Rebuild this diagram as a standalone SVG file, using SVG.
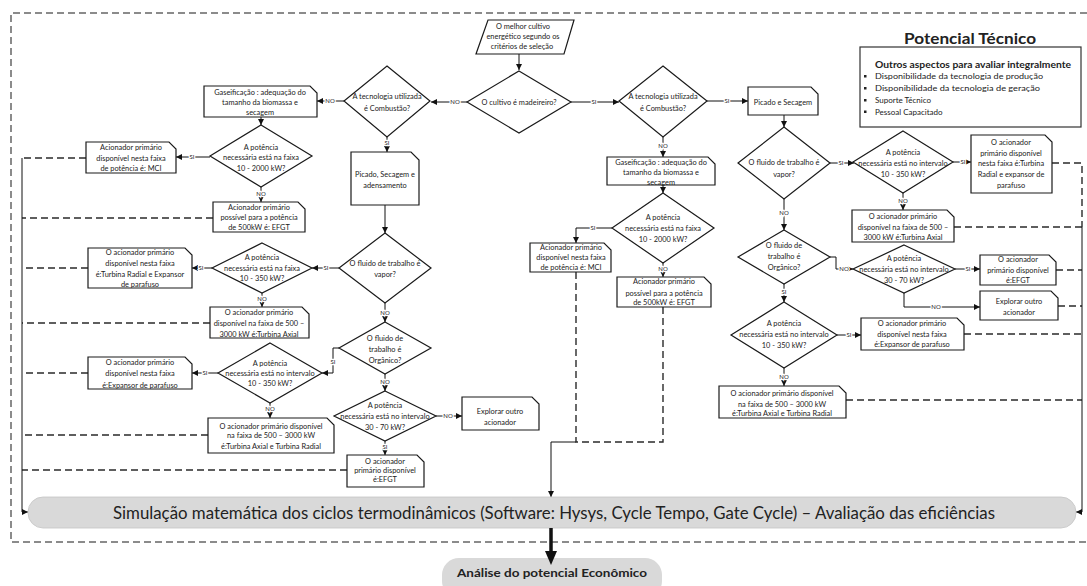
<svg xmlns="http://www.w3.org/2000/svg" width="1087" height="586" viewBox="0 0 1087 586">
  <defs>
    <marker id="ah" markerUnits="userSpaceOnUse" markerWidth="6" markerHeight="6" refX="6" refY="3" orient="auto">
      <path d="M0,0 L6,3 L0,6 z" fill="#111"/>
    </marker>
    <style>
      .n{fill:#fff;stroke:#1a1a1a;stroke-width:1.2}
      .t{font-family:Lato,"Liberation Sans",sans-serif;font-size:7.4px;fill:#222;text-anchor:middle}
      .c{fill:none;stroke:#111;stroke-width:1}
      .ca{fill:none;stroke:#111;stroke-width:1;marker-end:url(#ah)}
      .d{fill:none;stroke:#2a2a2a;stroke-width:1.4;stroke-dasharray:7 4}
      .fr{fill:none;stroke:#666;stroke-width:1.5;stroke-dasharray:7 4}
      .lb{font-family:Lato,"Liberation Sans",sans-serif;font-size:6px;fill:#222;text-anchor:middle;stroke:#fff;stroke-width:2.5;paint-order:stroke}
      .hd{font-family:Lato,"Liberation Sans",sans-serif;fill:#222}
    </style>
  </defs>

  <!-- outer dashed frame -->
  <path class="fr" d="M1087,13 H11 V542 H1087"/>

  <!-- connectors -->
  <g id="connectors">
    <path class="ca" d="M519,54 V70"/>
    <path class="ca" d="M467,102 H431"/>
    <path class="ca" d="M571,102 H619"/>
    <path class="ca" d="M344,101 H317"/>
    <path class="ca" d="M261,117 V125"/>
    <path class="ca" d="M210,157 H176"/>
    <path class="ca" d="M261,187 V202"/>
    <path class="ca" d="M387,137 V152"/>
    <path class="ca" d="M385,205 V233"/>
    <path class="ca" d="M339,268 H312"/>
    <path class="ca" d="M212,268 H192"/>
    <path class="ca" d="M262,293 V307"/>
    <path class="ca" d="M385,303 V322"/>
    <path class="ca" d="M339,348 H333 V373 H322"/>
    <path class="ca" d="M218,373 H192"/>
    <path class="ca" d="M270,403 V418"/>
    <path class="ca" d="M385,374 V391"/>
    <path class="ca" d="M436,416 H462"/>
    <path class="ca" d="M385,441 V455"/>

    <path class="ca" d="M663,137 V157"/>
    <path class="ca" d="M663,185 V193"/>
    <path class="ca" d="M612,228 H576 V243"/>
    <path class="ca" d="M663,263 V277"/>
    <path class="ca" d="M707,101 H748"/>
    <path class="ca" d="M784,115 V127"/>
    <path class="ca" d="M830,163 H854"/>
    <path class="ca" d="M953,162 H971"/>
    <path class="ca" d="M903,193 V210"/>
    <path class="ca" d="M784,199 V230"/>
    <path class="ca" d="M830,257 H836 V269 H853"/>
    <path class="ca" d="M955,269 H980"/>
    <path class="ca" d="M904,293 V307 H980"/>
    <path class="ca" d="M784,284 V302"/>
    <path class="ca" d="M837,335 H861"/>
    <path class="ca" d="M784,368 V386"/>

    <!-- dashed links to the collectors -->
    <path class="d" d="M86,158 H22"/>
    <path class="d" d="M213,218 H22"/>
    <path class="d" d="M88,268 H22"/>
    <path class="d" d="M210,323 H22"/>
    <path class="d" d="M88,373 H22"/>
    <path class="d" d="M208,435 H22"/>
    <path class="d" d="M347,470 H22"/>
    <path class="d" d="M576,272 V442 H663 V307"/>
    <path class="d" d="M1052,163 H1082 V227"/>
    <path class="d" d="M954,227 H1082"/>
    <path class="d" d="M1056,270 H1082"/>
    <path class="d" d="M1058,306 H1082"/>
    <path class="d" d="M964,334 H1082"/>
    <path class="d" d="M846,400 H1082"/>

    <!-- solid collectors -->
    <path class="ca" d="M22,158 V512 H28"/>
    <path class="ca" d="M1082,227 V512 H1076"/>
    <path class="ca" d="M576,442 H551 V497"/>

    <!-- branch labels -->
    <text class="lb" x="455" y="104">NO</text>
    <text class="lb" x="594" y="104">SI</text>
    <text class="lb" x="330" y="103">NO</text>
    <text class="lb" x="192" y="159">SI</text>
    <text class="lb" x="261" y="196">NO</text>
    <text class="lb" x="387" y="145">SI</text>
    <text class="lb" x="326" y="270">SI</text>
    <text class="lb" x="201" y="270">SI</text>
    <text class="lb" x="262" y="301">NO</text>
    <text class="lb" x="385" y="315">NO</text>
    <text class="lb" x="333" y="364">SI</text>
    <text class="lb" x="205" y="375">SI</text>
    <text class="lb" x="270" y="411">NO</text>
    <text class="lb" x="385" y="384">NO</text>
    <text class="lb" x="448" y="418">NO</text>
    <text class="lb" x="385" y="449">SI</text>
    <text class="lb" x="663" y="148">NO</text>
    <text class="lb" x="593" y="230">SI</text>
    <text class="lb" x="663" y="271">NO</text>
    <text class="lb" x="727" y="103">SI</text>
    <text class="lb" x="841" y="165">SI</text>
    <text class="lb" x="963" y="164">SI</text>
    <text class="lb" x="903" y="203">NO</text>
    <text class="lb" x="784" y="215">NO</text>
    <text class="lb" x="844" y="271">NO</text>
    <text class="lb" x="968" y="271">SI</text>
    <text class="lb" x="936" y="309">NO</text>
    <text class="lb" x="784" y="294">SI</text>
    <text class="lb" x="849" y="337">SI</text>
    <text class="lb" x="784" y="379">NO</text>
  </g>

  <!-- start -->
  <g id="inicio">
    <polygon class="n" points="488,20 574,20 564,54 476,54"/>
    <text class="t" x="523" y="29">O melhor cultivo</text>
    <text class="t" x="523" y="39">energético segundo os</text>
    <text class="t" x="522" y="49">critérios de seleção</text>
  </g>

  <g id="madeireiro">
    <polygon class="n" points="519,71 571,102 519,133 467,102"/>
    <text class="t" x="519" y="105">O cultivo é madeireiro?</text>
  </g>

  <!-- left branch -->
  <g id="tec-esq">
    <polygon class="n" points="387,66 430,101 387,137 344,101"/>
    <text class="t" x="387" y="99">A tecnologia utilizada</text>
    <text class="t" x="387" y="111">é Combustão?</text>
  </g>
  <g id="gas-esq">
    <path class="n" d="M204,86 H310 L317,93 V117 H204 Z"/>
    <text class="t" x="260" y="94.5">Gaseificação : adequação do</text>
    <text class="t" x="260" y="104.5">tamanho da biomassa e</text>
    <text class="t" x="260" y="115">secagem</text>
  </g>
  <g id="pot2000-esq">
    <polygon class="n" points="261,125 312,156 261,187 210,156"/>
    <text class="t" x="261" y="149.5">A potência</text>
    <text class="t" x="261" y="160">necessária está na faixa</text>
    <text class="t" x="261" y="170.5">10 - 2000 kW?</text>
  </g>
  <g id="mci-esq">
    <path class="n" d="M86,142 H169 L176,149 V173 H86 Z"/>
    <text class="t" x="131" y="150">Acionador primário</text>
    <text class="t" x="131" y="160.5">disponível nesta faixa</text>
    <text class="t" x="131" y="171">de potência é: MCI</text>
  </g>
  <g id="efgt500-esq">
    <path class="n" d="M213,202 H298 L305,209 V232 H213 Z"/>
    <text class="t" x="259" y="209.5">Acionador primário</text>
    <text class="t" x="259" y="219.5">possível para a potência</text>
    <text class="t" x="259" y="229.5">de 500kW é: EFGT</text>
  </g>
  <g id="picado-esq">
    <path class="n" d="M351,152 H411 L419,160 V205 H351 Z"/>
    <text class="t" x="385" y="176.5">Picado, Secagem e</text>
    <text class="t" x="385" y="187.5">adensamento</text>
  </g>
  <g id="vapor-esq">
    <polygon class="n" points="385,233 431,268 385,303 339,268"/>
    <text class="t" x="385" y="265.5">O fluido de trabalho é</text>
    <text class="t" x="385" y="276.5">vapor?</text>
  </g>
  <g id="pot350-esq">
    <polygon class="n" points="262,243 312,268 262,293 212,268"/>
    <text class="t" x="262" y="259.5">A potência</text>
    <text class="t" x="262" y="270.5">necessária está na faixa</text>
    <text class="t" x="262" y="280.5">10 - 350 kW?</text>
  </g>
  <g id="radial-esq">
    <path class="n" d="M88,248 H185 L192,255 V288 H88 Z"/>
    <text class="t" x="140" y="254.5">O acionador primário</text>
    <text class="t" x="140" y="265.5">disponível nesta faixa</text>
    <text class="t" x="140" y="276.5">é:Turbina Radial e Expansor</text>
    <text class="t" x="140" y="287">de parafuso</text>
  </g>
  <g id="axial-esq">
    <path class="n" d="M210,307 H302 L309,314 V338 H210 Z"/>
    <text class="t" x="259" y="315">O acionador primário</text>
    <text class="t" x="259" y="326">disponível na faixa de 500 –</text>
    <text class="t" x="259" y="337">3000 kW é:Turbina Axial</text>
  </g>
  <g id="organico-esq">
    <polygon class="n" points="385,322 431,348 385,374 339,348"/>
    <text class="t" x="385" y="340.5">O fluido de</text>
    <text class="t" x="385" y="351.5">trabalho é</text>
    <text class="t" x="385" y="362.5">Orgânico?</text>
  </g>
  <g id="int350-esq">
    <polygon class="n" points="270,343 322,373 270,403 218,373"/>
    <text class="t" x="270" y="365.5">A potência</text>
    <text class="t" x="270" y="375.5">necessária está no intervalo</text>
    <text class="t" x="270" y="385.5">10 - 350 kW?</text>
  </g>
  <g id="parafuso-esq">
    <path class="n" d="M88,357 H185 L192,364 V389 H88 Z"/>
    <text class="t" x="140" y="364.5">O acionador primário</text>
    <text class="t" x="140" y="376">disponível nesta faixa</text>
    <text class="t" x="140" y="387.5">é:Expansor de parafuso</text>
  </g>
  <g id="axrad-esq">
    <path class="n" d="M208,418 H327 L334,425 V453 H208 Z"/>
    <text class="t" x="271" y="428.5">O acionador primário disponível</text>
    <text class="t" x="271" y="438">na faixa de 500 – 3000 kW</text>
    <text class="t" x="271" y="448.5">é:Turbina Axial e Turbina Radial</text>
  </g>
  <g id="int70-esq">
    <polygon class="n" points="385,391 436,416 385,441 334,416"/>
    <text class="t" x="385" y="407.5">A potência</text>
    <text class="t" x="385" y="418.5">necessária está no intervalo</text>
    <text class="t" x="385" y="429.5">30 - 70 kW?</text>
  </g>
  <g id="explorar-esq">
    <path class="n" d="M462,397 H532 L539,404 V430 H462 Z"/>
    <text class="t" x="500" y="413.5">Explorar outro</text>
    <text class="t" x="500" y="424.5">acionador</text>
  </g>
  <g id="efgt-esq">
    <path class="n" d="M347,455 H417 L424,462 V487 H347 Z"/>
    <text class="t" x="385" y="463.5">O acionador</text>
    <text class="t" x="385" y="472.5">primário disponível</text>
    <text class="t" x="385" y="481.5">é:EFGT</text>
  </g>

  <!-- right branch: gasification -->
  <g id="tec-dir">
    <polygon class="n" points="663,66 707,101 663,137 619,101"/>
    <text class="t" x="663" y="99">A tecnologia utilizada</text>
    <text class="t" x="663" y="111">é Combustão?</text>
  </g>
  <g id="gas-dir">
    <path class="n" d="M607,157 H708 L715,164 V185 H607 Z"/>
    <text class="t" x="661" y="164.5">Gaseificação : adequação do</text>
    <text class="t" x="661" y="174.5">tamanho da biomassa e</text>
    <text class="t" x="661" y="184.5">secagem</text>
  </g>
  <g id="pot2000-dir">
    <polygon class="n" points="663,193 714,228 663,263 612,228"/>
    <text class="t" x="663" y="219.5">A potência</text>
    <text class="t" x="663" y="230.5">necessária está na faixa</text>
    <text class="t" x="663" y="242">10 - 2000 kW?</text>
  </g>
  <g id="mci-dir">
    <path class="n" d="M530,243 H604 L611,250 V272 H530 Z"/>
    <text class="t" x="571" y="250">Acionador primário</text>
    <text class="t" x="571" y="260">disponível nesta faixa</text>
    <text class="t" x="571" y="270">de potência é: MCI</text>
  </g>
  <g id="efgt500-dir">
    <path class="n" d="M617,277 H704 L711,284 V307 H617 Z"/>
    <text class="t" x="664" y="284">Acionador primário</text>
    <text class="t" x="664" y="295.5">possível para a potência</text>
    <text class="t" x="664" y="305">de 500kW é: EFGT</text>
  </g>

  <!-- right branch: combustion -->
  <g id="picado-dir">
    <path class="n" d="M748,87 H811 L818,94 V115 H748 Z"/>
    <text class="t" x="783" y="104.5">Picado e Secagem</text>
  </g>
  <g id="vapor-dir">
    <polygon class="n" points="784,127 830,163 784,199 738,163"/>
    <text class="t" x="784" y="164.5">O fluido de trabalho é</text>
    <text class="t" x="784" y="177">vapor?</text>
  </g>
  <g id="int350-dir">
    <polygon class="n" points="903,131 953,162 903,193 853,162"/>
    <text class="t" x="903" y="154.5">A potência</text>
    <text class="t" x="903" y="165.5">necessária está no intervalo</text>
    <text class="t" x="903" y="176.5">10 - 350 kW?</text>
  </g>
  <g id="radial-dir">
    <path class="n" d="M971,135 H1045 L1052,142 V193 H971 Z"/>
    <text class="t" x="1011" y="144.5">O acionador</text>
    <text class="t" x="1011" y="155.5">primário disponível</text>
    <text class="t" x="1011" y="165.5">nesta faixa é:Turbina</text>
    <text class="t" x="1011" y="176.5">Radial e expansor de</text>
    <text class="t" x="1011" y="187.5">parafuso</text>
  </g>
  <g id="axial-dir">
    <path class="n" d="M852,210 H947 L954,217 V242 H852 Z"/>
    <text class="t" x="903" y="218.5">O acionador primário</text>
    <text class="t" x="903" y="229.5">disponível na faixa de 500 –</text>
    <text class="t" x="903" y="239.5">3000 kW é:Turbina Axial</text>
  </g>
  <g id="organico-dir">
    <polygon class="n" points="784,230 830,257 784,284 738,257"/>
    <text class="t" x="784" y="247.5">O fluido de</text>
    <text class="t" x="784" y="259">trabalho é</text>
    <text class="t" x="784" y="270">Orgânico?</text>
  </g>
  <g id="int70-dir">
    <polygon class="n" points="904,245 955,269 904,293 853,269"/>
    <text class="t" x="904" y="260.5">A potência</text>
    <text class="t" x="904" y="272">necessária está no intervalo</text>
    <text class="t" x="904" y="283">30 - 70 kW?</text>
  </g>
  <g id="efgt-dir">
    <path class="n" d="M980,255 H1049 L1056,262 V285 H980 Z"/>
    <text class="t" x="1018" y="262">O acionador</text>
    <text class="t" x="1018" y="272.5">primário disponível</text>
    <text class="t" x="1018" y="283">é:EFGT</text>
  </g>
  <g id="explorar-dir">
    <path class="n" d="M980,291 H1051 L1058,298 V320 H980 Z"/>
    <text class="t" x="1019" y="303.5">Explorar outro</text>
    <text class="t" x="1019" y="314.5">acionador</text>
  </g>
  <g id="int350b-dir">
    <polygon class="n" points="784,302 837,335 784,368 731,335"/>
    <text class="t" x="784" y="325.5">A potência</text>
    <text class="t" x="784" y="337">necessária está no intervalo</text>
    <text class="t" x="784" y="348">10 - 350 kW?</text>
  </g>
  <g id="parafuso-dir">
    <path class="n" d="M861,318 H957 L964,325 V350 H861 Z"/>
    <text class="t" x="912" y="325.5">O acionador primário</text>
    <text class="t" x="912" y="336.5">disponível nesta faixa</text>
    <text class="t" x="912" y="347">é:Expansor de parafuso</text>
  </g>
  <g id="axrad-dir">
    <path class="n" d="M719,386 H839 L846,393 V418 H719 Z"/>
    <text class="t" x="782" y="396">O acionador primário disponível</text>
    <text class="t" x="782" y="406.5">na faixa de 500 – 3000 kW</text>
    <text class="t" x="782" y="416">é:Turbina Axial e Turbina Radial</text>
  </g>

  <!-- technical potential notes -->
  <g id="potencial-tecnico">
    <text class="hd" x="970" y="43.5" font-size="16" font-weight="bold" text-anchor="middle" textLength="132" lengthAdjust="spacingAndGlyphs">Potencial Técnico</text>
    <rect x="860" y="47" width="221" height="80" fill="#fff" stroke="#333" stroke-width="1.2"/>
    <text class="hd" x="875" y="68" font-size="8.5" font-weight="bold" textLength="196" lengthAdjust="spacingAndGlyphs">Outros aspectos para avaliar integralmente</text>
    <g fill="#222">
      <rect x="864" y="75" width="2.5" height="2.5"/>
      <rect x="864" y="87" width="2.5" height="2.5"/>
      <rect x="864" y="99" width="2.5" height="2.5"/>
      <rect x="864" y="110.5" width="2.5" height="2.5"/>
    </g>
    <text class="hd" x="875" y="79" font-size="8" textLength="168" lengthAdjust="spacingAndGlyphs">Disponibilidade da tecnologia de produção</text>
    <text class="hd" x="875" y="91" font-size="8" textLength="165" lengthAdjust="spacingAndGlyphs">Disponibilidade da tecnologia de geração</text>
    <text class="hd" x="875" y="102.5" font-size="8">Suporte Técnico</text>
    <text class="hd" x="875" y="114.5" font-size="8">Pessoal Capacitado</text>
  </g>

  <!-- simulation bar -->
  <g id="simulacao">
    <rect x="28" y="497" width="1048" height="31" rx="15" fill="#d9d9d9" stroke="#c4c4c4" stroke-width="0.8"/>
    <text class="hd" x="554" y="519" font-size="18" text-anchor="middle" textLength="882" lengthAdjust="spacingAndGlyphs">Simulação matemática dos ciclos termodinâmicos (Software: Hysys, Cycle Tempo, Gate Cycle) – Avaliação das eficiências</text>
  </g>

  <!-- economic analysis -->
  <g id="economico">
    <rect x="442" y="558" width="220" height="40" rx="17" fill="#d9d9d9"/>
    <text class="hd" x="552" y="577" font-size="12" font-weight="bold" text-anchor="middle" textLength="190" lengthAdjust="spacingAndGlyphs">Análise do potencial Econômico</text>
  </g>
  <g id="seta-economico">
    <line x1="551" y1="528" x2="551" y2="552" stroke="#111" stroke-width="3.5"/>
    <polygon points="545,551 557,551 551,565" fill="#111"/>
  </g>
</svg>
